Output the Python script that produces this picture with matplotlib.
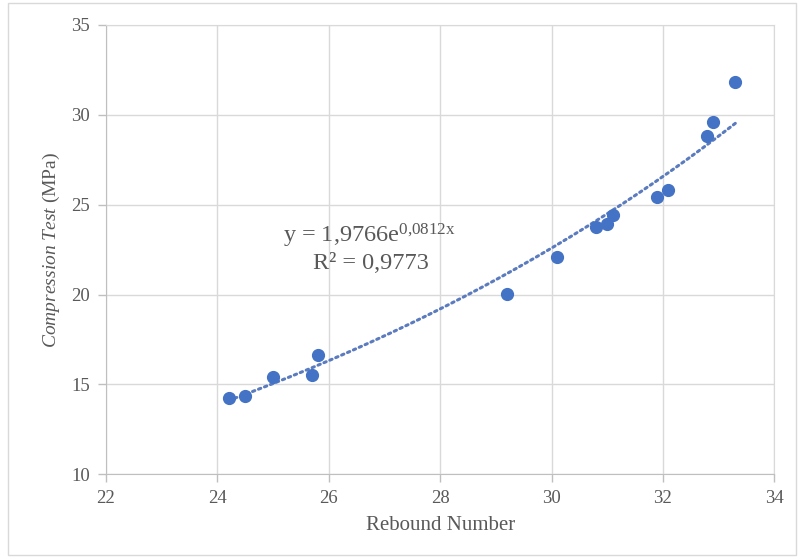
import numpy as np
import matplotlib
matplotlib.use('Agg')
import matplotlib.pyplot as plt
from matplotlib.patches import Rectangle

plt.rcParams['font.family'] = ['Liberation Serif', 'DejaVu Serif']
plt.rcParams['mathtext.fontset'] = 'custom'
plt.rcParams['mathtext.rm'] = 'Liberation Serif'
plt.rcParams['mathtext.it'] = 'Liberation Serif:italic'

# Rebound hammer vs compression test
rebound = [24.2, 24.5, 25.0, 25.7, 25.8, 29.2, 30.1, 30.8, 31.0, 31.1, 31.9, 32.1, 32.8, 32.9, 33.3]
strength = [14.23, 14.36, 15.43, 15.53, 16.62, 20.02, 22.09, 23.75, 23.93, 24.43, 25.41, 25.82, 28.83, 29.59, 31.83]

# exponential trendline coefficients (from the chart label)
a_coef = 1.9766
b_coef = 0.0812

x_ticks = [22, 24, 26, 28, 30, 32, 34]
y_ticks = [10, 15, 20, 25, 30, 35]

blue = '#4472C4'
grid_c = '#d9d9d9'
text_c = '#595959'

fig = plt.figure(figsize=(7.98, 5.58), dpi=100)
ax = fig.add_axes([0.1328, 0.15, 0.8375, 0.8052])

# trendline
xt = np.linspace(min(rebound), max(rebound), 200)
ax.plot(xt, a_coef * np.exp(b_coef * xt), color='#5b7bbf', lw=2.2,
        linestyle=(0, (0.8, 1.3)), dash_capstyle='round', zorder=2)

ax.plot(rebound, strength, 'o', color=blue, markersize=8.5, zorder=3)

ax.set_xlim(22, 34)
ax.set_ylim(10, 35)
ax.set_xticks(x_ticks)
ax.set_yticks(y_ticks)
ax.grid(True, color=grid_c, lw=1)
ax.set_axisbelow(True)

for s in ['top', 'right']:
    ax.spines[s].set_color(grid_c)
for s in ['left', 'bottom']:
    ax.spines[s].set_color('#bfbfbf')
ax.tick_params(colors='#bfbfbf', labelcolor=text_c, labelsize=13.5, length=5.5, width=1, pad=6)

ax.set_xlabel('Rebound Number', fontsize=15, color=text_c, labelpad=6)
ax.set_ylabel(r'$\mathit{Compression\ Test}$ (MPa)', fontsize=14, color=text_c, labelpad=7)

# equation label
ax.text(26.72, 22.9, r'y = 1,9766e$^{\mathrm{0{,}0812x}}$', fontsize=17.5,
        color=text_c, ha='center', va='baseline')
ax.text(26.75, 21.45, 'R² = 0,9773', fontsize=17.5, color=text_c,
        ha='center', va='baseline')

# outer chart border
fig.patches.append(Rectangle((8 / 798, 3 / 558), 788 / 798, 552 / 558,
                             transform=fig.transFigure, fill=False,
                             edgecolor=grid_c, lw=1))

fig.savefig('out.png', dpi=100)
